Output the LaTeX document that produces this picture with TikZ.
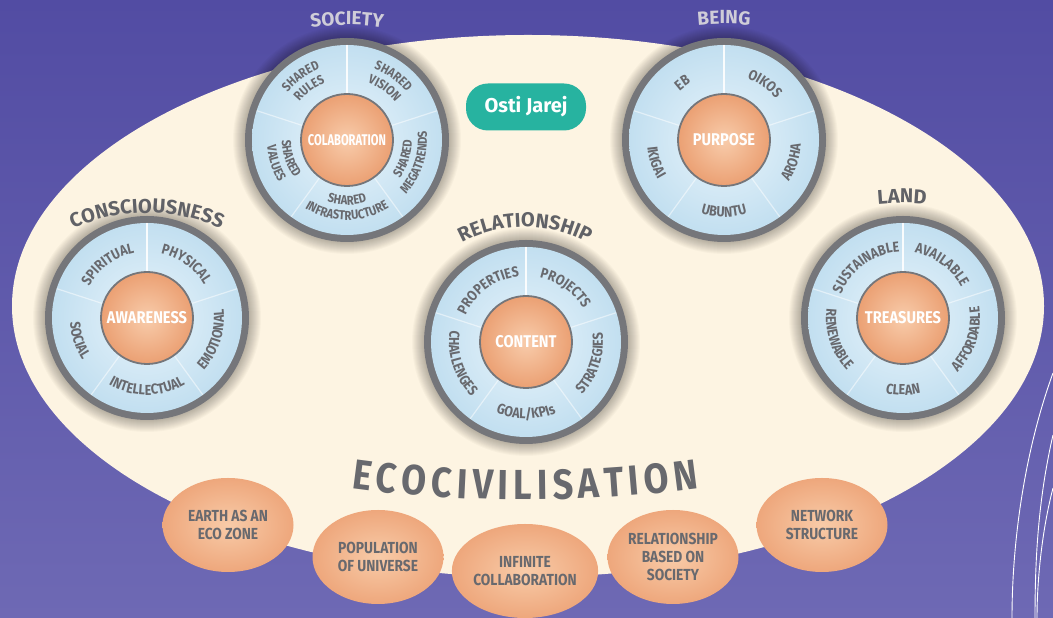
\documentclass[tikz,border=0pt]{standalone}
\usepackage{fontspec}
\setmainfont{Fira Sans}
\newfontfamily\condf[FakeStretch=0.86]{Fira Sans}
\newfontfamily\narrf[FakeStretch=0.72]{Fira Sans}
\usetikzlibrary{decorations.text,shapes.geometric}
\definecolor{bgtop}{HTML}{524CA3}
\definecolor{bgbot}{HTML}{6E69B4}
\definecolor{cream}{HTML}{FDF4E2}
\definecolor{tgray}{HTML}{68696E}
\definecolor{ttlgray}{HTML}{616267}
\definecolor{ltgray}{HTML}{CFCDD8}
\definecolor{ringgray}{HTML}{75767A}
\definecolor{blueA}{HTML}{E8F4FB}
\definecolor{blueB}{HTML}{C2DFF0}
\definecolor{orA}{HTML}{F8CCAB}
\definecolor{orB}{HTML}{EBA073}
\definecolor{eggA}{HTML}{F8CBA8}
\definecolor{eggB}{HTML}{EEA77C}
\definecolor{tealbox}{HTML}{27B3A0}
\newcommand\lblfont{\color{tgray}\condf\bfseries\fontsize{14.5}{16}\selectfont}
\newcommand\slblfont{\color{tgray}\condf\bfseries\fontsize{13}{15}\selectfont}
\newcommand\ttlfont{\color{ttlgray}\bfseries\fontsize{20}{22}\selectfont}
\newcommand\topfont{\color{ltgray}\bfseries\fontsize{19}{21}\selectfont}
\newcommand\ecofont{\color{tgray}\condf\bfseries\fontsize{42}{44}\selectfont}
\newcommand\cwlab[5]{\path[shift={(#1)},decorate,decoration={text along path,text align=center,text={|#4|#5}}] ({#2+70}:#3) arc[start angle={#2+70}, end angle={#2-70}, radius=#3];}
\newcommand\ccwlab[5]{\path[shift={(#1)},decorate,decoration={text along path,text align=center,text={|#4|#5}}] ({#2-70}:#3) arc[start angle={#2-70}, end angle={#2+70}, radius=#3];}
\newcommand\wheel[5]{%
  \coordinate (#1) at (#2,#3);
  \foreach \i in {1,...,12}{\fill[black,opacity=0.024] (#1) circle[radius={102+\i}];}
  \fill[ringgray] (#1) circle[radius=102];
  \shade[inner color=blueA, outer color=blueB] (#1) circle[radius=95];
  \draw[white,line width=1.4,opacity=.9] (#1) ++(90:47) -- ++(90:48);
  \foreach \a in {18,162,234,306}{\draw[white,line width=1.2,opacity=.5] (#1) ++(\a:47) -- ++(\a:48);}
  \node[orb,font=#4] (#1-c) at (#1) {#5};
}
\tikzset{
  orb/.style={circle, minimum size=92, inner sep=0, inner color=orA, outer color=orB,
    draw=ringgray, line width=1.8, text=white},
  egg/.style={ellipse, minimum width=131, minimum height=94, inner sep=0,
    inner color=eggA, outer color=eggB, text=tgray, align=center,
    font=\condf\bfseries\fontsize{16}{18}\selectfont},
  thinline/.style={white, line width=0.9}
}
\begin{document}
\begin{tikzpicture}[x=1pt,y=1pt]
\useasboundingbox (0,0) rectangle (1053,618);
\shade[top color=bgtop, bottom color=bgbot] (0,0) rectangle (1053,618);
\fill[cream] (528,312) ellipse[x radius=516, y radius=271];
% right decorative lines
\draw[thinline] (1053,245) .. controls (1025,168) and (1012,78) .. (1012,0);
\draw[thinline] (1053,183) .. controls (1038,118) and (1035,58) .. (1035,0);
\draw[thinline] (1053,130) .. controls (1042,88) and (1037,38) .. (1037,0);
% wheels
\wheel{S}{347}{478}{\narrf\bfseries\fontsize{15.5}{17}\selectfont}{COLABORATION}
\wheel{B}{724}{478}{\condf\bfseries\fontsize{17}{19}\selectfont}{PURPOSE}
\wheel{C}{147}{300}{\condf\bfseries\fontsize{17}{19}\selectfont}{AWARENESS}
\wheel{R}{526}{276}{\condf\bfseries\fontsize{17}{19}\selectfont}{CONTENT}
\wheel{L}{903}{300}{\condf\bfseries\fontsize{17}{19}\selectfont}{TREASURES}
% society labels
\cwlab{S}{126}{76}{\slblfont}{SHARED}
\cwlab{S}{126}{61}{\slblfont}{RULES}
\cwlab{S}{54}{76}{\slblfont}{SHARED}
\cwlab{S}{54}{61}{\slblfont}{VISION}
\ccwlab{S}{198}{65}{\slblfont}{SHARED}
\ccwlab{S}{198}{80}{\slblfont}{VALUES}
\ccwlab{S}{270}{65}{\slblfont}{SHARED}
\ccwlab{S}{270}{80}{\slblfont}{INFRASTRUCTURE}
\ccwlab{S}{342}{65}{\slblfont}{SHARED}
\ccwlab{S}{342}{80}{\slblfont}{MEGATRENDS}
% being labels
\cwlab{B}{126}{66}{\lblfont}{EB}
\cwlab{B}{54}{66}{\lblfont}{OIKOS}
\ccwlab{B}{198}{77}{\lblfont}{IKIGAI}
\ccwlab{B}{270}{77}{\lblfont}{UBUNTU}
\ccwlab{B}{342}{77}{\lblfont}{AROHA}
% consciousness labels
\cwlab{C}{126}{66}{\lblfont}{SPIRITUAL}
\cwlab{C}{54}{66}{\lblfont}{PHYSICAL}
\ccwlab{C}{198}{77}{\lblfont}{SOCIAL}
\ccwlab{C}{270}{77}{\lblfont}{INTELLECTUAL}
\ccwlab{C}{342}{77}{\lblfont}{EMOTIONAL}
% relationship labels
\cwlab{R}{126}{66}{\lblfont}{PROPERTIES}
\cwlab{R}{54}{66}{\lblfont}{PROJECTS}
\ccwlab{R}{198}{77}{\lblfont}{CHALLENGES}
\ccwlab{R}{270}{77}{\lblfont}{GOAL/KPIs}
\ccwlab{R}{342}{77}{\lblfont}{STRATEGIES}
% land labels
\cwlab{L}{126}{66}{\lblfont}{SUSTAINABLE}
\cwlab{L}{54}{66}{\lblfont}{AVAILABLE}
\ccwlab{L}{198}{77}{\lblfont}{RENEWABLE}
\ccwlab{L}{270}{77}{\lblfont}{CLEAN}
\ccwlab{L}{342}{77}{\lblfont}{AFFORDABLE}
% titles
\coordinate (tS) at (347,343);
\coordinate (tB) at (724,344);
\coordinate (tL) at (902,165);
\coordinate (tC) at (147,221);
\coordinate (tR) at (525,259);
\cwlab{tS}{90}{250}{\topfont}{SOCIETY}
\cwlab{tB}{90}{250}{\topfont}{BEING}
\cwlab{tL}{90}{250}{\ttlfont}{LAND}
\cwlab{tC}{90}{184}{\ttlfont}{CONSCIOUSNESS}
\cwlab{tR}{90}{132}{\ttlfont}{RELATIONSHIP}
% teal box
\node[fill=tealbox, rounded corners=22, minimum width=120, minimum height=47, text=white,
  font=\bfseries\fontsize{20}{24}\selectfont] (osti) at (526,511) {Osti Jarej};
% ecocivilisation
\coordinate (eco) at (525,1400);
\path[shift={(eco)},decorate,decoration={text along path,text align={fit to path},text={|\ecofont|ECOCIVILISATION}}]
  (262.2:1282) arc[start angle=262.2, end angle=277.8, radius=1282];
% bottom eggs
\node[egg] (e1) at (228,93) {EARTH AS AN\\ECO ZONE};
\node[egg] (e2) at (378,61) {POPULATION\\OF UNIVERSE};
\node[egg] (e3) at (525,47) {INFINITE\\COLLABORATION};
\node[egg] (e4) at (673,61) {RELATIONSHIP\\BASED ON\\SOCIETY};
\node[egg] (e5) at (822,93) {NETWORK\\STRUCTURE};
\end{tikzpicture}
\end{document}
